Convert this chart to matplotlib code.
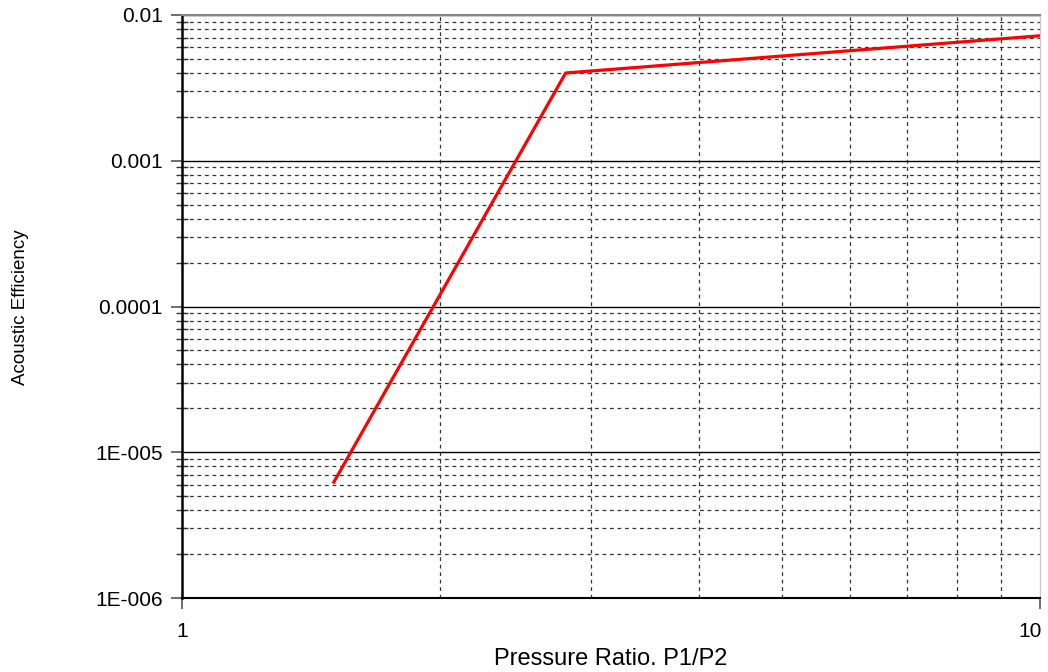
import matplotlib
matplotlib.use("Agg")
import matplotlib.pyplot as plt
from matplotlib.ticker import LogLocator, FixedLocator, NullFormatter
from matplotlib.transforms import ScaledTranslation

plt.rcParams['font.family'] = ['Liberation Sans', 'DejaVu Sans']

# Acoustic efficiency vs pressure ratio
pressure_ratio = [1.5, 2.8, 10.0]
efficiency = [6.1e-6, 0.0040, 0.0072]

y_ticks = [1e-6, 1e-5, 1e-4, 1e-3, 1e-2]
y_tick_labels = ["1E-006", "1E-005", "0.0001", "0.001", "0.01"]
x_ticks = [1, 10]
x_tick_labels = ["1", "10"]

fig = plt.figure(figsize=(10.48, 6.72), dpi=100)
ax = fig.add_axes([182 / 1048, 1 - 598 / 672, (1040 - 182) / 1048, (598 - 15) / 672])

ax.set_xscale('log')
ax.set_yscale('log')
ax.set_xlim(1, 10)
ax.set_ylim(1e-6, 1e-2)

ax.plot(pressure_ratio, efficiency, color='#ff0000', lw=2.3, solid_capstyle='butt', zorder=5)

ax.yaxis.set_major_locator(FixedLocator(y_ticks))
ax.set_yticklabels(y_tick_labels)
ax.xaxis.set_major_locator(FixedLocator(x_ticks))
ax.set_xticklabels(x_tick_labels)
ax.yaxis.set_minor_locator(LogLocator(base=10, subs=range(2, 10), numticks=20))
ax.xaxis.set_minor_locator(LogLocator(base=10, subs=range(2, 10), numticks=20))
ax.yaxis.set_minor_formatter(NullFormatter())
ax.xaxis.set_minor_formatter(NullFormatter())

ax.grid(which='major', axis='y', color='black', lw=1.0, ls='-')
ax.grid(which='minor', axis='both', color='#333333', lw=0.9, ls=(0, (3, 3)))

ax.tick_params(axis='both', which='major', direction='out', length=8, width=1.2,
               labelsize=15, colors='#555555', labelcolor='black')
ax.tick_params(axis='y', which='major', pad=6)
ax.tick_params(axis='y', which='minor', direction='inout', length=8, width=1.0, colors='#333333')
ax.tick_params(axis='x', which='minor', direction='out', length=0)
ax.tick_params(axis='x', which='major', pad=9)

# keep the right-hand x label inside the figure
last = ax.get_xticklabels()[-1]
last.set_transform(last.get_transform() + ScaledTranslation(-10 / 100, 0, fig.dpi_scale_trans))

ax.spines['right'].set_color('#cccccc')
ax.spines['right'].set_linewidth(1.0)
ax.spines['top'].set_color('#888888')
ax.spines['top'].set_linewidth(1.5)
ax.spines['left'].set_linewidth(1.8)
ax.spines['bottom'].set_linewidth(1.5)

fig.text(611 / 1048, 1 - 659 / 672, "Pressure Ratio. P1/P2", fontsize=17,
         ha='center', va='center')
fig.text(21 / 1048, 1 - 307 / 672, "Acoustic Efficiency", rotation=90,
         fontsize=13.5, ha='center', va='center')

fig.savefig("out.png", dpi=100, facecolor='white')
